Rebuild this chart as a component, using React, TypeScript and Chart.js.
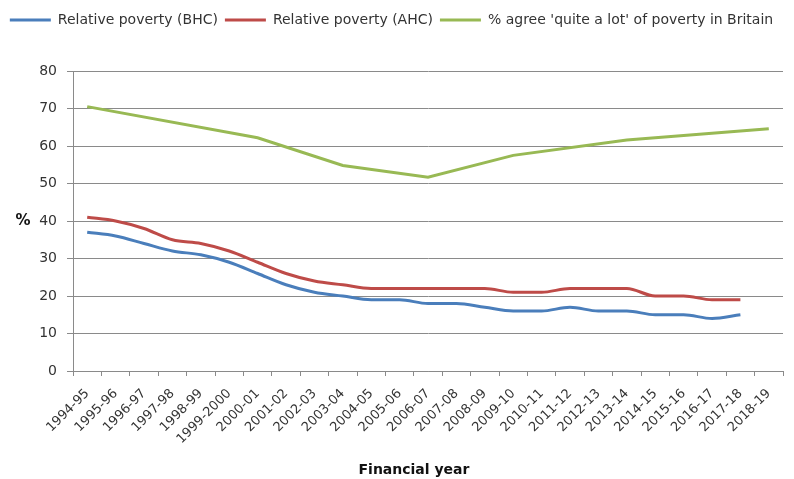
import React, { useEffect, useRef } from 'react';
import { Chart, registerables } from 'chart.js';

Chart.register(...registerables);

const years = [
  '1994-95', '1995-96', '1996-97', '1997-98', '1998-99', '1999-2000', '2000-01',
  '2001-02', '2002-03', '2003-04', '2004-05', '2005-06', '2006-07', '2007-08',
  '2008-09', '2009-10', '2010-11', '2011-12', '2012-13', '2013-14', '2014-15',
  '2015-16', '2016-17', '2017-18', '2018-19',
];

const bhcValues = [37, 36, 34, 32, 31, 29, 26, 23, 21, 20, 19, 19, 18, 18, 17, 16, 16, 17, 16, 16, 15, 15, 14, 15, null];
const ahcValues = [41, 40, 38, 35, 34, 32, 29, 26, 24, 23, 22, 22, 22, 22, 22, 21, 21, 22, 22, 22, 20, 20, 19, 19, null];
const agreeValues = [70.5, null, null, null, null, null, 62.2, null, null, 54.8, null, null, 51.7, null, null, 57.5, null, null, null, 61.6, null, null, null, null, 64.6];

const seriesLabels = ['Relative poverty (BHC)', 'Relative poverty (AHC)', "% agree 'quite a lot' of poverty in Britain"];
const seriesColors = ['#4A7EBB', '#BE4B48', '#98B954'];
const yTicks = { min: 0, max: 80, step: 10 };
const yTitle = '%';
const xTitle = 'Financial year';

const FONT = "'DejaVu Sans', sans-serif";
const GRID = '#8a8a8a';
const TEXT = '#333333';

const titlesPlugin = {
  id: 'axisTitles',
  afterInit(chart: any) {
    const legend = chart.legend;
    if (legend && !legend.__patched) {
      const orig = legend.fit.bind(legend);
      legend.fit = function () {
        orig();
        this.height = 65;
      };
      legend.__patched = true;
    }
  },
  afterDraw(chart: any) {
    const ctx = chart.ctx;
    const area = chart.chartArea;
    ctx.save();
    ctx.fillStyle = '#111';
    ctx.font = `bold 15px ${FONT}`;
    ctx.textAlign = 'center';
    ctx.textBaseline = 'middle';
    const y = chart.scales.y;
    ctx.fillText(yTitle, 23, y.getPixelForValue(40));
    ctx.font = `bold 14px ${FONT}`;
    ctx.fillText(xTitle, (area.left + area.right) / 2 - 14, 470);
    ctx.restore();
  },
};

export default function App() {
  const ref = useRef<HTMLCanvasElement | null>(null);
  useEffect(() => {
    if (!ref.current) return;
    const datasets = [bhcValues, ahcValues, agreeValues].map((vals, i) => ({
      label: seriesLabels[i],
      data: vals,
      borderColor: seriesColors[i],
      backgroundColor: seriesColors[i],
      borderWidth: 3,
      pointRadius: 0,
      pointHoverRadius: 0,
      tension: i === 2 ? 0 : 0.4,
      cubicInterpolationMode: i === 2 ? 'default' : 'monotone',
      spanGaps: true,
      fill: false,
    }));
    const chart = new Chart(ref.current, {
      type: 'line',
      data: { labels: years, datasets },
      options: {
        animation: false,
        responsive: false,
        layout: { padding: { left: 0, right: 11, top: 6, bottom: 0 } },
        plugins: {
          tooltip: { enabled: false },
          legend: {
            position: 'top',
            labels: {
              boxWidth: 41,
              boxHeight: 3,
              padding: 7,
              color: TEXT,
              font: { family: FONT, size: 14 },
              generateLabels: (c: any) =>
                c.data.datasets.map((d: any, i: number) => ({
                  text: d.label,
                  fillStyle: d.borderColor,
                  strokeStyle: d.borderColor,
                  lineWidth: 0,
                  hidden: false,
                  datasetIndex: i,
                  fontColor: TEXT,
                })),
            },
          },
        },
        scales: {
          x: {
            type: 'category',
            offset: true,
            grid: {
              offset: true,
              drawOnChartArea: false,
              drawTicks: true,
              tickLength: 5,
              color: GRID,
            },
            border: { color: GRID, width: 1 },
            ticks: {
              maxRotation: 45,
              minRotation: 45,
              autoSkip: false,
              padding: 10,
              color: TEXT,
              font: { family: FONT, size: 13 },
            },
            afterFit: (s: any) => { s.height = 108; },
          },
          y: {
            min: yTicks.min,
            max: yTicks.max,
            ticks: {
              stepSize: yTicks.step,
              padding: 10,
              color: TEXT,
              font: { family: FONT, size: 14 },
            },
            grid: { color: GRID, tickLength: 6, drawTicks: true },
            border: { color: GRID, width: 1 },
            afterFit: (s: any) => { s.width = 73; },
          },
        },
      },
      plugins: [titlesPlugin],
    });
    return () => chart.destroy();
  }, []);
  return (
    <div style={{ position: 'absolute', left: 0, top: 0, width: 794, height: 479, background: '#fff' }}>
      <canvas ref={ref} width={794} height={479} style={{ display: 'block' }} />
    </div>
  );
}
